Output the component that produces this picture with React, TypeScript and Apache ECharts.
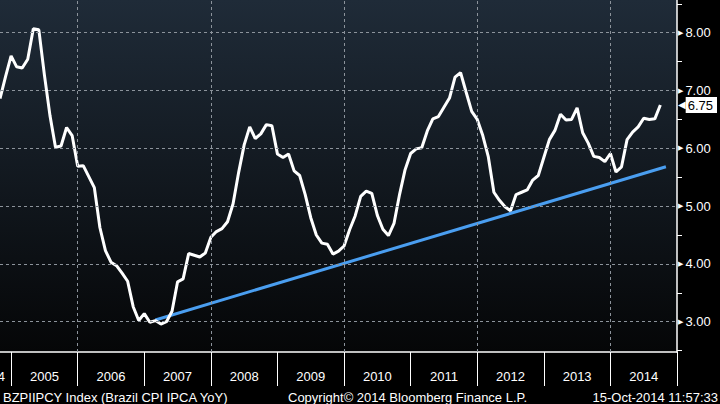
import React, { useEffect, useRef } from "react";
import * as echarts from "echarts";

// Monthly categories Oct 2004 .. Dec 2014 (axis runs to end of 2014)
const firstYear = 2004;
const firstMonth = 10;
const categoryCount = 123;
const months: string[] = [];
for (let i = 0; i < categoryCount; i++) {
  const m = firstMonth - 1 + i;
  const y = firstYear + Math.floor(m / 12);
  const mm = (m % 12) + 1;
  months.push(`${y}-${String(mm).padStart(2, "0")}`);
}

// BZPIIPCY Index, Oct 2004 .. Sep 2014
const cpiYoY: number[] = [
  6.86, 7.24, 7.6,
  7.41, 7.39, 7.54, 8.07, 8.05, 7.27, 6.57, 6.02, 6.04, 6.36, 6.22, 5.69,
  5.7, 5.51, 5.32, 4.63, 4.23, 4.03, 3.97, 3.84, 3.7, 3.26, 3.02, 3.14,
  2.99, 3.02, 2.96, 3.0, 3.18, 3.69, 3.74, 4.18, 4.15, 4.12, 4.19, 4.46,
  4.56, 4.61, 4.73, 5.04, 5.58, 6.06, 6.37, 6.17, 6.25, 6.41, 6.39, 5.9,
  5.84, 5.9, 5.61, 5.53, 5.2, 4.8, 4.5, 4.36, 4.34, 4.17, 4.22, 4.31,
  4.59, 4.83, 5.17, 5.26, 5.22, 4.84, 4.6, 4.49, 4.7, 5.2, 5.63, 5.91,
  5.99, 6.01, 6.3, 6.51, 6.55, 6.71, 6.87, 7.23, 7.31, 6.97, 6.64, 6.5,
  6.22, 5.85, 5.24, 5.1, 4.99, 4.92, 5.2, 5.24, 5.28, 5.45, 5.53, 5.84,
  6.15, 6.31, 6.59, 6.49, 6.5, 6.7, 6.27, 6.09, 5.86, 5.84, 5.77, 5.91,
  5.59, 5.68, 6.15, 6.28, 6.37, 6.52, 6.5, 6.51, 6.75,
];

// Trend line endpoints [category index, value]
const trendStart: [number, number] = [28, 3.03];
const trendEnd: [number, number] = [120, 5.68];

const yLabelValues: number[] = [3, 4, 5, 6, 7, 8];
const yMinorTicks: number[] = [2.5, 3.5, 4.5, 5.5, 6.5, 7.5, 8.5];
const verticalGridMonths: string[] = ["2005-12", "2007-12", "2009-12", "2011-12", "2013-12"];
const yMin = 2.476;
const yMax = 8.566;

const GRID_LINE = "#8c939b";
const FONT = "'Liberation Sans', Arial, sans-serif";

export default function App() {
  const ref = useRef<HTMLDivElement>(null);

  useEffect(() => {
    if (!ref.current) return;
    const chart = echarts.init(ref.current, undefined, { renderer: "svg" });

    const trendData: (number | null)[] = months.map(() => null);
    trendData[trendStart[0]] = trendStart[1];
    trendData[trendEnd[0]] = trendEnd[1];

    const lastValue = cpiYoY[cpiYoY.length - 1];

    const gridMarks = [
      ...yLabelValues.map((v) => ({ yAxis: v })),
      ...verticalGridMonths.map((m) => ({ xAxis: m })),
    ];

    chart.setOption({
      animation: false,
      backgroundColor: "#000",
      textStyle: { fontFamily: FONT },
      grid: {
        left: 0,
        top: 0,
        right: 38,
        bottom: 52,
        show: true,
        borderWidth: 0,
        backgroundColor: new echarts.graphic.LinearGradient(0, 0, 0, 1, [
          { offset: 0, color: "#1f2b38" },
          { offset: 1, color: "#050607" },
        ]),
      },
      xAxis: {
        type: "category",
        data: months,
        boundaryGap: false,
        axisLine: { show: true, lineStyle: { color: "#fff", width: 1.5 } },
        axisTick: {
          show: true,
          interval: (_i: number, v: string) => v.endsWith("-12"),
          length: 34,
          lineStyle: { color: "#fff", width: 1 },
        },
        axisLabel: {
          interval: (_i: number, v: string) => v.endsWith("-06"),
          formatter: (v: string) => v.slice(0, 4),
          color: "#fff",
          fontSize: 13,
          fontFamily: FONT,
          margin: 18,
        },
        splitLine: { show: false },
      },
      yAxis: [
        {
          type: "value",
          position: "right",
          min: yMin,
          max: yMax,
          axisLine: { show: true, lineStyle: { color: "#fff", width: 1.5 } },
          axisTick: {
            show: true,
            customValues: yMinorTicks,
            length: 5,
            lineStyle: { color: "#fff", width: 1 },
          },
          axisLabel: {
            customValues: yLabelValues,
            margin: 1,
            formatter: (v: number) => `{t|▶}{v|${v.toFixed(2)}}`,
            rich: {
              t: { fontSize: 7, color: "#fff", fontFamily: "DejaVu Sans", padding: [0, 2, 0, 0] },
              v: { fontSize: 13, color: "#fff", fontFamily: FONT },
            },
          },
          splitLine: { show: false },
        },
        {
          type: "value",
          position: "right",
          min: yMin,
          max: yMax,
          axisLine: { show: false },
          axisTick: { show: false },
          splitLine: { show: false },
          axisLabel: {
            customValues: [lastValue],
            margin: 1,
            formatter: (v: number) => `{a|◀}{b|${v.toFixed(2)}}`,
            rich: {
              a: { fontSize: 10, color: "#fff", fontFamily: "DejaVu Sans" },
              b: {
                fontSize: 13,
                color: "#000",
                backgroundColor: "#fff",
                padding: [2, 4, 1, 2],
                fontFamily: FONT,
              },
            },
          },
        },
      ],
      series: [
        {
          type: "line",
          name: "trend",
          data: trendData,
          connectNulls: true,
          symbol: "none",
          z: 2,
          lineStyle: { color: "#4a9ef0", width: 3 },
          markLine: {
            silent: true,
            symbol: ["none", "none"],
            label: { show: false },
            lineStyle: { color: GRID_LINE, type: [3, 3], width: 1 },
            data: gridMarks,
          },
        },
        {
          type: "line",
          name: "BZPIIPCY",
          data: cpiYoY,
          symbol: "none",
          z: 3,
          lineStyle: { color: "#ffffff", width: 3 },
        },
      ],
      graphic: [
        {
          type: "text",
          x: 5,
          y: 370,
          style: { text: "2004", fill: "#fff", font: `13px ${FONT}`, textAlign: "right", textVerticalAlign: "top" },
        },
        {
          type: "text",
          x: 3,
          y: 391,
          style: { text: "BZPIIPCY Index (Brazil CPI IPCA YoY)", fill: "#fff", font: `13px ${FONT}`, textVerticalAlign: "top" },
        },
        {
          type: "text",
          x: 288,
          y: 391,
          style: { text: "Copyright© 2014 Bloomberg Finance L.P.", fill: "#fff", font: `13px ${FONT}`, textVerticalAlign: "top" },
        },
        {
          type: "text",
          x: 718,
          y: 391,
          style: { text: "15-Oct-2014 11:57:33", fill: "#fff", font: `13px ${FONT}`, textAlign: "right", textVerticalAlign: "top" },
        },
      ],
    });

    return () => chart.dispose();
  }, []);

  return (
    <div
      ref={ref}
      style={{ position: "fixed", left: 0, top: 0, width: 720, height: 404 }}
    />
  );
}
